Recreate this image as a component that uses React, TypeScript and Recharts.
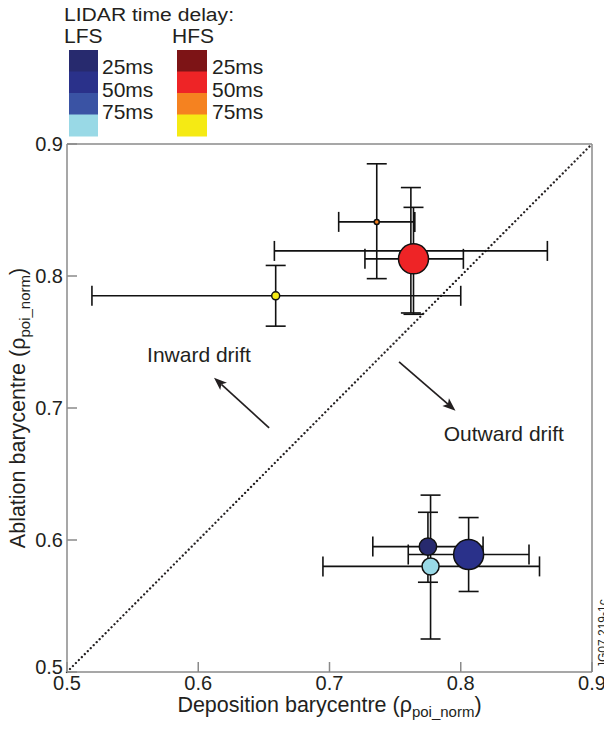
import React from 'react';
import {
  ScatterChart,
  Scatter,
  XAxis,
  YAxis,
  ErrorBar,
  ReferenceLine,
  ReferenceDot,
} from 'recharts';

// ---- data ----
const POINT_NAMES = ['HFS 25ms', 'HFS 50ms', 'HFS 75ms (a)', 'HFS 75ms', 'LFS 25ms', 'LFS 50ms', 'LFS 75ms'];
const DEPOSITION = [0.762, 0.764, 0.736, 0.659, 0.775, 0.806, 0.777];
const DEPOSITION_LOW = [0.658, 0.727, 0.707, 0.519, 0.733, 0.760, 0.695];
const DEPOSITION_HIGH = [0.866, 0.802, 0.765, 0.800, 0.817, 0.852, 0.860];
const ABLATION = [0.819, 0.813, 0.841, 0.785, 0.595, 0.589, 0.580];
const ABLATION_LOW = [0.772, 0.771, 0.798, 0.762, 0.568, 0.561, 0.525];
const ABLATION_HIGH = [0.867, 0.852, 0.885, 0.808, 0.621, 0.617, 0.634];

const AXIS_TICKS = [0.5, 0.6, 0.7, 0.8, 0.9];
const DIAGONAL = [
  { x: 0.5, y: 0.5 },
  { x: 0.9, y: 0.9 },
];
const INWARD_ARROW = [
  { x: 0.654, y: 0.685 },
  { x: 0.612, y: 0.723 },
];
const OUTWARD_ARROW = [
  { x: 0.753, y: 0.735 },
  { x: 0.796, y: 0.698 },
];
const INWARD_LABEL = { x: 0.561, y: 0.735, text: 'Inward drift' };
const OUTWARD_LABEL = { x: 0.787, y: 0.675, text: 'Outward drift' };

const LEGEND_TITLE = 'LIDAR time delay:';
const LEGEND_GROUPS = ['LFS', 'HFS'];
const LEGEND_DELAYS = ['25ms', '50ms', '75ms'];
const LFS_COLORS = ['#272a6e', '#2a318a', '#3a53a4', '#99d9e6'];
const HFS_COLORS = ['#7d1416', '#ee2426', '#f58220', '#f5ea14'];
const FIGURE_ID = 'JG07.219-1c';

// ---- styles ----
const POINT_RADIUS = [5, 15, 2.5, 4, 8.7, 15, 8.5];
const POINT_FILL = ['#7d1416', '#ee2426', '#f58220', '#f5ea14', '#272a6e', '#2a318a', '#99d9e6'];
const FONT = "'Liberation Sans', Arial, Helvetica, sans-serif";
const TXT = '#231f20';
const AXIS_GRAY = '#8a8a8a';

const W = 612;
const H = 723;

const tableData = POINT_NAMES.map((name, i) => ({
  name,
  i,
  x: DEPOSITION[i],
  y: ABLATION[i],
  xErr: [DEPOSITION[i] - DEPOSITION_LOW[i], DEPOSITION_HIGH[i] - DEPOSITION[i]],
  yErr: [ABLATION[i] - ABLATION_LOW[i], ABLATION_HIGH[i] - ABLATION[i]],
}));

const ArrowShape = (p: any) => {
  const { x1, y1, x2, y2 } = p;
  if ([x1, y1, x2, y2].some((v) => typeof v !== 'number' || isNaN(v))) return <g />;
  const ang = Math.atan2(y2 - y1, x2 - x1);
  const L = 13;
  const hw = 5;
  const bx = x2 - L * Math.cos(ang);
  const by = y2 - L * Math.sin(ang);
  const px = -Math.sin(ang) * hw;
  const py = Math.cos(ang) * hw;
  const nx = x2 - (L - 3) * Math.cos(ang);
  const ny = y2 - (L - 3) * Math.sin(ang);
  return (
    <g>
      <line x1={x1} y1={y1} x2={nx} y2={ny} stroke={TXT} strokeWidth={1.7} />
      <polygon
        points={`${x2},${y2} ${bx + px},${by + py} ${nx},${ny} ${bx - px},${by - py}`}
        fill={TXT}
      />
    </g>
  );
};

const DiagShape = (p: any) => {
  const { x1, y1, x2, y2 } = p;
  return (
    <line
      x1={x1}
      y1={y1}
      x2={x2}
      y2={y2}
      stroke={TXT}
      strokeWidth={2.3}
      strokeDasharray="0.01 4.2"
      strokeLinecap="round"
    />
  );
};

const makeTextShape = (text: string) => (p: any) => (
  <text x={p.cx} y={p.cy} fontFamily={FONT} fontSize={21} fill={TXT}>
    {text}
  </text>
);

const XTitle = (props: any) => {
  const vb = props.viewBox || {};
  return (
    <text
      x={vb.x + vb.width / 2}
      y={vb.y + 40}
      textAnchor="middle"
      fontFamily={FONT}
      fontSize={21.5}
      fill={TXT}
    >
      Deposition barycentre (ρ
      <tspan fontSize={15} dy={5}>poi_norm</tspan>
      <tspan fontSize={21.5} dy={-5}>)</tspan>
    </text>
  );
};

const YTitle = (props: any) => {
  const vb = props.viewBox || {};
  const cx = vb.x + 17;
  const cy = vb.y + vb.height / 2;
  return (
    <text
      x={cx}
      y={cy}
      transform={`rotate(-90 ${cx} ${cy})`}
      textAnchor="middle"
      fontFamily={FONT}
      fontSize={21.5}
      fill={TXT}
    >
      Ablation barycentre (ρ
      <tspan fontSize={15} dy={5}>poi_norm</tspan>
      <tspan fontSize={21.5} dy={-5}>)</tspan>
    </text>
  );
};

const YTick = (p: any) => {
  const v = p.payload?.value;
  const shift = v === AXIS_TICKS[0] ? -5.5 : 0;
  return (
    <text
      x={p.x}
      y={p.y + shift}
      dy="0.355em"
      textAnchor="end"
      fontFamily={FONT}
      fontSize={20}
      fill={TXT}
    >
      {Number(v).toFixed(1)}
    </text>
  );
};

const PointShape = (p: any) => {
  const i = p.payload?.i ?? 0;
  return (
    <circle
      cx={p.cx}
      cy={p.cy}
      r={POINT_RADIUS[i]}
      fill={POINT_FILL[i]}
      stroke="#111"
      strokeWidth={1.5}
    />
  );
};

const tickStyle = { fontFamily: FONT, fontSize: 20, fill: TXT };

const LegendOverlay = () => {
  const boxH = 21.5;
  const top = 50;
  return (
    <svg
      width={W}
      height={H}
      style={{ position: 'absolute', left: 0, top: 0, pointerEvents: 'none' }}
    >
      <text
        x={64}
        y={21}
        fontFamily={FONT}
        fontSize={18}
        textLength={170}
        lengthAdjust="spacingAndGlyphs"
        fill={TXT}
      >
        {LEGEND_TITLE}
      </text>
      <text x={64} y={43} fontFamily={FONT} fontSize={21} fill={TXT}>
        {LEGEND_GROUPS[0]}
      </text>
      <text x={172} y={43} fontFamily={FONT} fontSize={21} fill={TXT}>
        {LEGEND_GROUPS[1]}
      </text>
      {LFS_COLORS.map((c, k) => (
        <rect key={'l' + k} x={69} y={top + k * boxH} width={29} height={boxH + 0.5} fill={c} />
      ))}
      {HFS_COLORS.map((c, k) => (
        <rect key={'h' + k} x={177} y={top + k * boxH} width={30} height={boxH + 0.5} fill={c} />
      ))}
      {LEGEND_DELAYS.map((d, k) => (
        <text key={'lt' + k} x={102} y={74 + k * 22.5} fontFamily={FONT} fontSize={21} fill={TXT}>
          {d}
        </text>
      ))}
      {LEGEND_DELAYS.map((d, k) => (
        <text key={'ht' + k} x={212} y={74 + k * 22.5} fontFamily={FONT} fontSize={21} fill={TXT}>
          {d}
        </text>
      ))}
      <text
        x={607}
        y={668}
        transform="rotate(-90 607 668)"
        fontFamily={FONT}
        fontSize={12}
        fill={TXT}
      >
        {FIGURE_ID}
      </text>
    </svg>
  );
};

export default function App() {
  return (
    <div style={{ position: 'relative', width: W, height: H, marginLeft: -8, marginTop: -8 }}>
      <ScatterChart
        width={W}
        height={H}
        margin={{ top: 144, right: 20, left: 8, bottom: 0 }}
      >
        <XAxis
          type="number"
          dataKey="x"
          domain={[0.5, 0.9]}
          ticks={AXIS_TICKS}
          allowDataOverflow
          height={51}
          tickFormatter={(v: number) => v.toFixed(1)}
          tick={tickStyle}
          tickSize={-10}
          tickMargin={14}
          axisLine={{ stroke: AXIS_GRAY, strokeWidth: 1.5 }}
          tickLine={{ stroke: AXIS_GRAY, strokeWidth: 1.5 }}
          label={(props: any) => <XTitle {...props} />}
        />
        <YAxis
          type="number"
          dataKey="y"
          domain={[0.5, 0.9]}
          ticks={AXIS_TICKS}
          allowDataOverflow
          width={59}
          tick={<YTick />}
          tickSize={-10}
          tickMargin={14}
          axisLine={{ stroke: AXIS_GRAY, strokeWidth: 1.5 }}
          tickLine={{ stroke: AXIS_GRAY, strokeWidth: 1.5 }}
          label={(props: any) => <YTitle {...props} />}
        />
        <ReferenceLine y={0.9} stroke={AXIS_GRAY} strokeWidth={1.5} />
        <ReferenceLine x={0.9} stroke={AXIS_GRAY} strokeWidth={1.5} />
        <ReferenceLine segment={DIAGONAL} shape={DiagShape} />
        <ReferenceLine segment={INWARD_ARROW} shape={ArrowShape} />
        <ReferenceLine segment={OUTWARD_ARROW} shape={ArrowShape} />
        <ReferenceDot
          x={INWARD_LABEL.x}
          y={INWARD_LABEL.y}
          r={1}
          shape={makeTextShape(INWARD_LABEL.text)}
        />
        <ReferenceDot
          x={OUTWARD_LABEL.x}
          y={OUTWARD_LABEL.y}
          r={1}
          shape={makeTextShape(OUTWARD_LABEL.text)}
        />
        <Scatter
          data={tableData}
          isAnimationActive={false}
          shape={() => <g />}
        >
          <ErrorBar dataKey="xErr" direction="x" width={10} stroke="#111" strokeWidth={1.6} />
          <ErrorBar dataKey="yErr" direction="y" width={10} stroke="#111" strokeWidth={1.6} />
        </Scatter>
        <Scatter data={tableData} isAnimationActive={false} shape={PointShape} />
      </ScatterChart>
      <LegendOverlay />
    </div>
  );
}
